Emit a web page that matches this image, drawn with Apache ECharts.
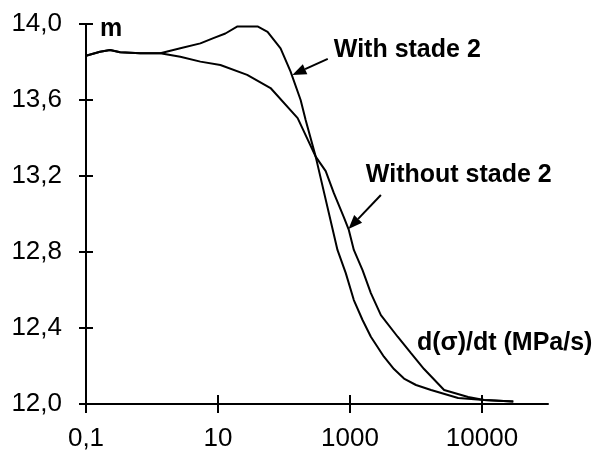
<!DOCTYPE html>
<html>
<head>
<meta charset="utf-8">
<script src="https://cdn.jsdelivr.net/npm/echarts@6/dist/echarts.min.js"></script>
<style>
  html, body { margin: 0; padding: 0; background: #fff; }
  #chart { width: 611px; height: 471px; }
</style>
</head>
<body>
<div id="chart"></div>
<script>
// Shape factor m versus loading rate d(sigma)/dt, plotted on a logarithmic rate axis.
// X values are log10 of the loading rate (MPa/s).

// Curve "With stade 2"
const logRateWith = [-1, -0.787, -0.635, -0.483, -0.179, 0.125, 0.429, 0.733, 0.930, 1.112,
  1.295, 1.599, 1.751, 1.948, 2.100, 2.252, 2.328, 2.480, 2.810, 2.936,
  3.058, 3.190, 3.316, 3.514, 3.666, 3.818, 4.000, 4.228, 4.638, 5.033, 5.474];
const mWith = [13.833, 13.854, 13.863, 13.851, 13.846, 13.846, 13.872, 13.898, 13.926, 13.950,
  13.987, 13.987, 13.959, 13.872, 13.749, 13.600, 13.495, 13.302, 12.811, 12.689,
  12.547, 12.442, 12.354, 12.249, 12.184, 12.134, 12.100, 12.074, 12.032, 12.021, 12.013];

// Curve "Without stade 2"
const logRateWithout = [-1, -0.787, -0.635, -0.483, -0.179, 0.125, 0.429, 0.733, 1.036, 1.442,
  1.796, 2.207, 2.480, 2.632, 2.754, 2.906, 2.982, 3.058, 3.190, 3.316,
  3.468, 3.722, 3.924, 4.122, 4.426, 4.790, 5.033, 5.474];
const mWithout = [13.833, 13.854, 13.863, 13.851, 13.846, 13.846, 13.828, 13.802, 13.784, 13.732,
  13.663, 13.505, 13.302, 13.226, 13.111, 12.984, 12.916, 12.811, 12.705, 12.584,
  12.468, 12.354, 12.268, 12.184, 12.074, 12.037, 12.021, 12.013];

// Axis ticks
const xTickValues = [-1, 1, 3, 5];
const xTickLabels = ['0,1', '10', '1000', '10000'];
const yTickValues = [12.0, 12.4, 12.8, 13.2, 13.6, 14.0];
const yMin = 12.0, yMax = 14.0, yStep = 0.4;
const xMin = -1, xMax = 6;

// Annotation anchors (log10 rate, m)
const withLabelAt = [2.754, 13.863];
const withArrow = [[2.663, 13.816], [2.126, 13.732]];
const withoutLabelAt = [3.240, 13.204];
const withoutArrow = [[3.468, 13.100], [2.977, 12.921]];
const rateLabelAt = [4.015, 12.321];

const FONT = "'Liberation Sans', Arial, Helvetica, sans-serif";
const BLACK = '#000';
const X_TICK = 9, Y_TICK = 7;

const chart = echarts.init(document.getElementById('chart'), null, { renderer: 'canvas' });

const zip = (xs, ys) => xs.map((x, i) => [x, ys[i]]);
const xLabel = v => {
  const i = xTickValues.findIndex(t => Math.abs(t - v) < 1e-9);
  return i >= 0 ? xTickLabels[i] : '';
};

const tickStyle = { color: BLACK, width: 2 };

chart.setOption({
  animation: false,
  backgroundColor: '#fff',
  grid: { left: 86, top: 24, width: 462, height: 380, containLabel: false, outerBoundsMode: 'none' },
  xAxis: {
    type: 'value', min: xMin, max: xMax, position: 'bottom',
    axisLine: { show: true, onZero: false, lineStyle: { color: BLACK, width: 2 } },
    axisTick: { show: true, inside: false, length: X_TICK, customValues: xTickValues, lineStyle: tickStyle },
    axisLabel: { customValues: xTickValues, formatter: xLabel, color: BLACK, fontSize: 26, fontFamily: FONT, margin: 22 },
    splitLine: { show: false }
  },
  yAxis: {
    type: 'value', min: yMin, max: yMax, interval: yStep, position: 'left',
    name: 'm', nameLocation: 'end', nameGap: -5,
    nameTextStyle: { color: BLACK, fontSize: 25, fontWeight: 'bold', fontFamily: FONT, align: 'left', verticalAlign: 'middle', padding: [0, 0, 0, 14] },
    axisLine: { show: true, onZero: false, lineStyle: { color: BLACK, width: 2 } },
    axisTick: { show: true, inside: false, length: Y_TICK, lineStyle: tickStyle },
    axisLabel: { formatter: v => v.toFixed(1).replace('.', ','), color: BLACK, fontSize: 26, fontFamily: FONT, margin: 24 },
    splitLine: { show: false }
  },
  series: [
    {
      name: 'With stade 2', type: 'line',
      data: zip(logRateWith, mWith), showSymbol: false, smooth: false,
      lineStyle: { color: BLACK, width: 2 }
    },
    {
      name: 'Without stade 2', type: 'line',
      data: zip(logRateWithout, mWithout), showSymbol: false, smooth: false,
      lineStyle: { color: BLACK, width: 2 }
    }
  ]
});

const toPx = p => chart.convertToPixel({ xAxisIndex: 0, yAxisIndex: 0 }, p);

// Inner halves of the ticks, so that each tick crosses its axis
function innerTicks() {
  const out = [];
  xTickValues.forEach(v => {
    const p = toPx([v, yMin]);
    out.push({ type: 'line', shape: { x1: p[0], y1: p[1], x2: p[0], y2: p[1] - X_TICK }, style: { stroke: BLACK, lineWidth: 2 } });
  });
  yTickValues.forEach(v => {
    const p = toPx([xMin, v]);
    out.push({ type: 'line', shape: { x1: p[0], y1: p[1], x2: p[0] + Y_TICK, y2: p[1] }, style: { stroke: BLACK, lineWidth: 2 } });
  });
  return out;
}

// Annotation arrows and labels placed from data coordinates
function arrow(from, to) {
  const a = toPx(from), b = toPx(to);
  const dx = b[0] - a[0], dy = b[1] - a[1];
  const len = Math.hypot(dx, dy);
  const ux = dx / len, uy = dy / len;
  const L = 14, W = 5.5;
  const bx = b[0] - ux * L, by = b[1] - uy * L;
  return [
    { type: 'line', shape: { x1: a[0], y1: a[1], x2: bx, y2: by }, style: { stroke: BLACK, lineWidth: 2 } },
    { type: 'polygon', shape: { points: [[b[0], b[1]], [bx - uy * W, by + ux * W], [bx + uy * W, by - ux * W]] }, style: { fill: BLACK } }
  ];
}

function label(text, at) {
  const p = toPx(at);
  return {
    type: 'text', x: p[0], y: p[1],
    style: { text, fill: BLACK, fontSize: 25, fontWeight: 'bold', fontFamily: FONT, align: 'left', verticalAlign: 'middle' }
  };
}

chart.setOption({
  graphic: [
    ...innerTicks(),
    label('With stade 2', withLabelAt),
    ...arrow(withArrow[0], withArrow[1]),
    label('Without stade 2', withoutLabelAt),
    ...arrow(withoutArrow[0], withoutArrow[1]),
    label('d(σ)/dt (MPa/s)', rateLabelAt)
  ]
});
</script>
</body>
</html>
